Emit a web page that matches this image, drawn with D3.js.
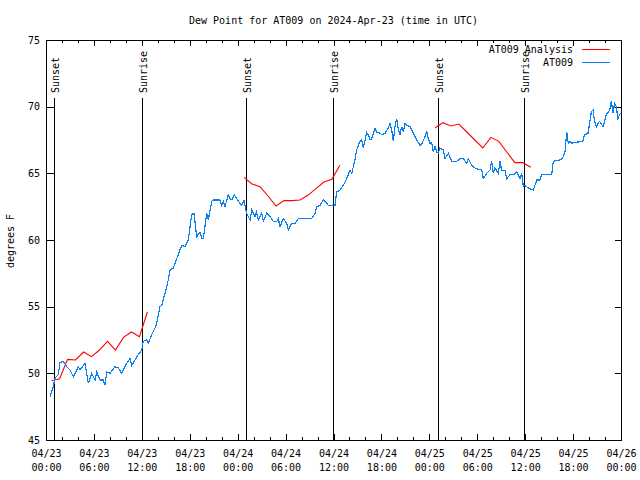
<!DOCTYPE html>
<html>
<head>
<meta charset="utf-8">
<script src="https://cdn.jsdelivr.net/npm/d3@7"></script>
<style>
html,body{margin:0;padding:0;background:#fff;}
svg{display:block;}
text{font-family:"DejaVu Sans Mono","Liberation Mono",monospace;font-size:10px;fill:#000;}
</style>
</head>
<body>
<svg id="chart" width="640" height="480"></svg>
<script>
// ---------- data ----------
const startTime = "2024-04-23T00:00:00Z";
const titleText = "Dew Point for AT009 on 2024-Apr-23 (time in UTC)";
const yLabel = "degrees F";
const seriesNames = ["AT009 Analysis", "AT009"];
const yTicks = [45, 50, 55, 60, 65, 70, 75];

// observed series (hours after start, value in degrees F)
const obsHours = [0.5,0.91,1.13,1.54,1.75,2.17,2.59,3.0,3.42,4.04,4.26,4.88,5.3,5.72,6.14,6.35,6.76,7.18,7.39,7.6,
  8.01,8.64,9.05,9.48,10.1,10.52,10.73,11.14,11.56,11.98,12.18,12.61,12.81,13.24,13.65,13.86,14.28,14.49,14.9,15.31,
  15.53,15.94,16.37,16.99,17.41,17.82,18.24,18.53,18.87,19.28,19.5,19.7,20.12,20.32,20.75,20.95,21.79,22.0,22.2,22.41,
  22.83,23.04,23.29,23.58,23.88,24.29,24.51,24.79,25.13,25.55,25.76,26.17,26.36,26.58,27.01,27.21,27.64,28.05,28.46,28.89,
  29.09,29.3,29.71,30.14,30.34,30.77,31.18,31.59,33.27,33.68,33.9,34.31,34.72,34.94,35.35,36.19,36.4,36.81,37.23,37.65,
  38.07,38.28,38.69,38.9,39.11,39.32,39.53,39.73,39.95,40.16,40.36,40.57,40.78,41.2,41.41,41.82,42.04,42.45,42.86,43.08,
  43.29,43.49,43.7,43.91,44.12,44.33,44.54,44.74,44.95,45.17,45.58,45.99,46.42,46.83,47.04,47.46,47.67,47.87,48.08,48.29,
  48.5,48.71,48.92,49.12,49.33,49.75,49.96,50.38,50.8,51.43,51.84,52.25,52.68,52.88,53.31,53.72,54.13,54.56,54.76,55.18,
  55.6,55.81,56.01,56.22,56.64,56.85,57.06,57.48,57.69,58.1,58.52,58.94,59.35,59.56,59.77,59.98,60.39,61.02,61.45,61.86,
  62.07,63.32,63.52,64.36,64.57,64.78,64.99,65.2,65.4,65.61,65.82,66.03,67.23,67.43,67.86,68.07,68.28,68.49,68.69,68.91,
  69.12,69.33,69.74,69.95,70.16,70.58,70.79,71.0,71.2,71.41,71.62,71.82,71.95];
const obsValues = [48.25,49.0,49.65,49.9,50.8,50.9,50.5,50.25,49.75,50.5,50.25,50.75,49.25,50.0,49.5,50.1,49.5,49.5,49.1,50.1,
  50.0,50.5,50.4,50.0,50.75,51.1,50.6,51.0,51.4,51.75,52.4,52.5,52.25,52.9,53.4,53.75,55.0,55.1,56.0,57.0,
  57.75,57.9,58.6,59.6,59.5,60.0,61.9,62.0,60.25,60.6,60.1,60.1,62.0,61.5,62.9,63.0,63.0,62.6,62.9,62.5,
  63.4,63.1,63.0,63.4,63.1,62.75,62.6,63.0,62.0,61.5,62.25,61.75,62.1,61.5,62.0,61.4,62.0,61.75,61.4,61.4,
  61.6,61.0,61.6,61.25,60.75,61.25,61.25,61.6,61.6,62.0,62.5,62.6,63.0,62.9,62.6,62.6,63.6,63.75,64.1,64.6,
  65.25,65.0,66.0,66.75,67.1,67.4,67.5,66.9,67.5,68.05,67.9,67.5,67.6,68.4,68.1,68.0,67.9,68.0,68.4,68.75,
  68.25,67.4,68.5,69.1,68.25,67.9,68.5,68.1,68.75,68.6,68.5,68.0,67.5,67.1,67.2,67.75,68.2,67.6,67.25,67.3,
  66.6,67.0,66.6,66.5,66.9,66.75,66.1,66.5,65.9,65.9,66.1,66.1,65.75,66.1,65.6,65.4,65.3,65.25,64.6,65.0,
  65.25,65.9,65.0,65.4,65.0,65.9,65.2,65.2,64.6,64.9,64.9,65.1,64.6,65.0,64.0,64.1,63.9,63.75,64.5,64.5,
  64.9,64.9,65.9,66.0,66.1,66.25,66.6,68.1,67.25,67.4,67.25,67.3,67.4,67.9,68.0,68.75,69.6,69.75,68.9,68.5,
  68.75,68.9,68.5,68.9,69.4,69.75,70.4,69.5,70.25,70.0,69.1,69.4,69.5];

// analysis series, three night-time runs (hourly)
const anaHours1 = [0.7,1.7,2.7,3.7,4.7,5.7,6.7,7.7,8.7,9.7,10.7,11.7,12.7];
const anaValues1 = [49.45,49.6,51.05,51.0,51.6,51.25,51.75,52.4,51.75,52.7,53.1,52.75,54.6];
const anaHours2 = [24.8,25.8,26.8,27.8,28.8,29.8,30.8,31.8,32.8,33.8,34.8,35.8,36.8];
const anaValues2 = [64.7,64.2,64.0,63.3,62.55,62.95,62.95,63.0,63.35,63.85,64.35,64.55,65.6];
const anaHours3 = [48.7,49.7,50.7,51.7,52.7,53.7,54.7,55.7,56.7,57.7,58.7,59.7,60.7];
const anaValues3 = [68.4,68.8,68.55,68.7,68.1,67.5,66.9,67.7,67.4,66.6,65.8,65.8,65.45];

// sun events (hours after start)
const sunLabels = ["Sunset","Sunrise","Sunset","Sunrise","Sunset","Sunrise"];
const sunHours = [1.05,11.97,25.05,35.92,49.1,59.85];

(function(){
// ---------- layout ----------
const svg = d3.select("#chart");
const pL = 46, pR = 621, pT = 40, pB = 440;
const t0 = new Date(startTime);
const toDate = h => new Date(t0.getTime() + h * 3600e3);

const x = d3.scaleUtc().domain([t0, toDate(72)]).range([pL, pR]);
const y = d3.scaleLinear().domain([45, 75]).range([pB, pT]);

svg.append("rect").attr("width",640).attr("height",480).attr("fill","#fff");

// minor x ticks every 2h
const minor = d3.utcHour.every(2).range(t0, toDate(72.01));
const g = svg.append("g");
g.append("g").attr("transform",`translate(0,${pB})`)
  .call(d3.axisBottom(x).tickValues(minor).tickSize(-3).tickFormat(""))
  .call(s=>s.select(".domain").remove());
g.append("g").attr("transform",`translate(0,${pT})`)
  .call(d3.axisTop(x).tickValues(minor).tickSize(-3).tickFormat(""))
  .call(s=>s.select(".domain").remove());

// major x ticks every 6h
const major = d3.utcHour.every(6).range(t0, toDate(72.01));
const fmtDate = d3.utcFormat("%m/%d"), fmtTime = d3.utcFormat("%H:%M");
const xb = g.append("g").attr("transform",`translate(0,${pB})`)
  .call(d3.axisBottom(x).tickValues(major).tickSize(-6).tickFormat(""));
xb.select(".domain").remove();
xb.selectAll(".tick text").remove();
xb.selectAll(".tick").append("text")
  .attr("text-anchor","middle")
  .each(function(d){
    const t = d3.select(this);
    t.append("tspan").attr("x",0).attr("y",17).text(fmtDate(d));
    t.append("tspan").attr("x",0).attr("y",31).text(fmtTime(d));
  });
g.append("g").attr("transform",`translate(0,${pT})`)
  .call(d3.axisTop(x).tickValues(major).tickSize(-6).tickFormat(""))
  .call(s=>s.select(".domain").remove());

// y axes
const yl = g.append("g").attr("transform",`translate(${pL},0)`)
  .call(d3.axisLeft(y).tickValues(yTicks).tickSize(-8).tickPadding(6).tickFormat(d3.format("d")));
yl.select(".domain").remove();
g.append("g").attr("transform",`translate(${pR},0)`)
  .call(d3.axisRight(y).tickValues(yTicks).tickSize(-6).tickFormat(""))
  .call(s=>s.select(".domain").remove());
g.selectAll(".tick line").attr("stroke","#000").attr("shape-rendering","crispEdges");
g.selectAll("g").attr("font-family",null).attr("font-size",null);
g.selectAll("text").attr("fill","#000");

// sun lines
sunHours.forEach((h,i)=>{
  const xv = Math.round(x(toDate(h))) + 0.5;
  svg.append("line").attr("x1",xv).attr("x2",xv).attr("y1",98).attr("y2",pB)
    .attr("stroke","#000").attr("stroke-width",1).attr("shape-rendering","crispEdges");
  svg.append("text").attr("transform",`translate(${xv+0.5},93) rotate(-90)`)
    .attr("text-anchor","start").attr("dy","0.35em").text(sunLabels[i]);
});

// lines
const line = d3.line().x(d=>x(toDate(d[0]))).y(d=>y(d[1]));
const zip = (a,b)=>a.map((v,i)=>[v,b[i]]);
const plot = svg.append("g");
[[anaHours1,anaValues1],[anaHours2,anaValues2],[anaHours3,anaValues3]].forEach(([h,v])=>{
  plot.append("path").datum(zip(h,v)).attr("d",line)
    .attr("fill","none").attr("stroke","#ff0000").attr("stroke-width",1.1);
});
plot.append("path").datum(zip(obsHours,obsValues)).attr("d",line)
  .attr("fill","none").attr("stroke","#0a80f0").attr("stroke-width",1.2)
  .attr("shape-rendering","crispEdges");

// border
svg.append("rect").attr("x",pL+0.5).attr("y",pT+0.5).attr("width",pR-pL).attr("height",pB-pT)
  .attr("fill","none").attr("stroke","#000").attr("shape-rendering","crispEdges");

// title
svg.append("text").attr("x",(pL+pR)/2).attr("y",20).attr("dy","0.35em")
  .attr("text-anchor","middle").text(titleText);

// y label
svg.append("text").attr("transform","translate(10,241) rotate(-90)")
  .attr("text-anchor","middle").attr("dy","0.35em").text(yLabel);

// legend
const legColors = ["#ff0000","#0a80f0"];
seriesNames.forEach((n,i)=>{
  const ly = 49 + i*13;
  svg.append("text").attr("x",573).attr("y",ly).attr("dy","0.35em").attr("text-anchor","end").text(n);
  svg.append("line").attr("x1",582).attr("x2",610).attr("y1",ly+0.5).attr("y2",ly+0.5)
    .attr("stroke",legColors[i]).attr("stroke-width",1).attr("shape-rendering","crispEdges");
});
})();
</script>
</body>
</html>
